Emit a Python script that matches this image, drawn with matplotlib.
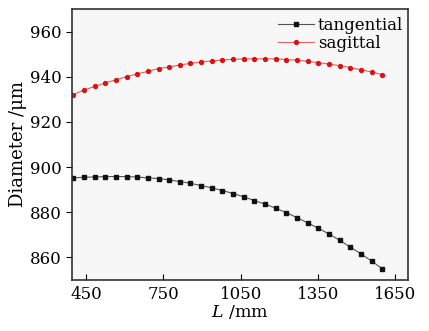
import matplotlib
matplotlib.use("Agg")
import matplotlib.pyplot as plt

L = [400, 441, 483, 524, 566, 607, 648, 690, 731, 772, 814, 855, 897, 938, 979,
     1021, 1062, 1103, 1145, 1186, 1228, 1269, 1310, 1352, 1393, 1434, 1476, 1517, 1559, 1600]
tangential = [895.2, 895.5, 895.6, 895.8, 895.8, 895.8, 895.6, 895.2, 894.9, 894.3,
              893.6, 892.8, 891.8, 890.8, 889.6, 888.3, 886.8, 885.2, 883.6, 881.8,
              879.8, 877.6, 875.3, 872.9, 870.4, 867.6, 864.6, 861.6, 858.4, 855.0]
sagittal = [932.1, 934.1, 935.7, 937.2, 938.7, 940.0, 941.2, 942.4, 943.6, 944.3,
            945.2, 945.9, 946.5, 947.0, 947.4, 947.7, 947.9, 947.9, 947.9, 947.9,
            947.6, 947.3, 946.8, 946.2, 945.6, 944.9, 944.0, 943.1, 942.1, 940.9]
xticks = [450, 750, 1050, 1350, 1650]
yticks = [860, 880, 900, 920, 940, 960]

plt.rcParams['font.family'] = ['DejaVu Serif']
plt.rcParams['mathtext.fontset'] = 'dejavuserif'

fig = plt.figure(figsize=(4.29, 3.31), dpi=100)
ax = fig.add_axes([0.168, 0.154, 0.783, 0.819])
ax.set_facecolor('#f7f7f7')

ax.plot(L, tangential, color='#555555', lw=0.8, marker='s', ms=2.4,
        mfc='#111111', mec='#111111', label='tangential')
ax.plot(L, sagittal, color='#e06060', lw=0.8, marker='o', ms=2.8,
        mfc='#e01010', mec='#e01010', label='sagittal')

ax.set_xlim(395, 1700)
ax.set_ylim(850, 970)
ax.set_xticks(xticks)
ax.set_yticks(yticks)
ax.tick_params(axis='x', direction='in', length=4, labelsize=12, pad=4)
ax.tick_params(axis='y', direction='out', length=4, labelsize=12)
for s in ax.spines.values():
    s.set_linewidth(1.2)
    s.set_color('#333333')

ax.set_xlabel('$L$ /mm', fontsize=12.5, labelpad=0)
ax.set_ylabel('Diameter /μm', fontsize=13, labelpad=2)

leg = ax.legend(loc='upper right', frameon=False, fontsize=12, handlelength=2.2,
                handletextpad=0.2, labelspacing=0.05, borderaxespad=0.1,
                bbox_to_anchor=(1.01, 1.0))

fig.savefig('out.png', dpi=100)
